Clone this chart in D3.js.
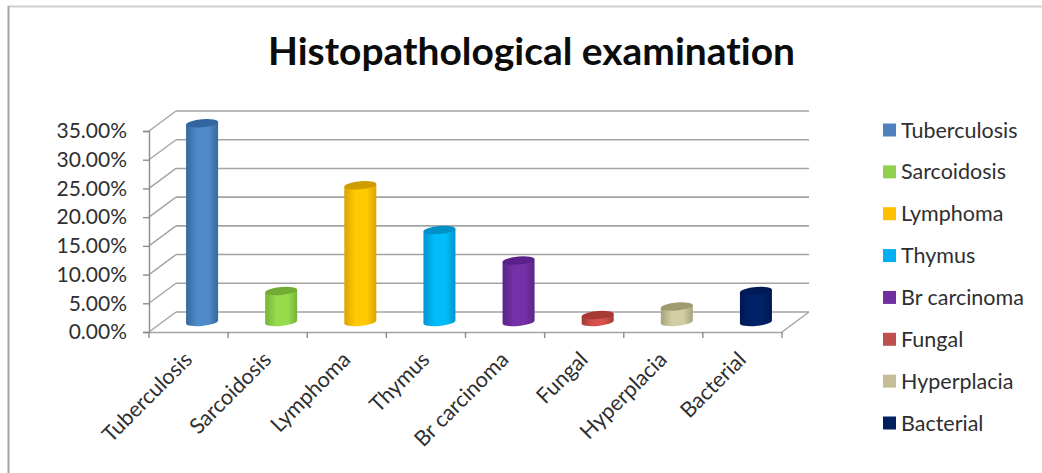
<!DOCTYPE html>
<html>
<head>
<meta charset="utf-8">
<script src="https://cdn.jsdelivr.net/npm/d3@7"></script>
<style>
  html, body { margin: 0; background: #fff; }
  svg { display: block; }
  text { font-family: Lato, "Open Sans", sans-serif; fill: #2f2f2f; font-variant-ligatures: none; }
</style>
</head>
<body>
<svg width="1042" height="473"></svg>
<script>
var categories = ["Tuberculosis", "Sarcoidosis", "Lymphoma", "Thymus", "Br carcinoma", "Fungal", "Hyperplacia", "Bacterial"];
var values = [34.6, 5.4, 23.8, 16, 10.7, 1.2, 2.7, 5.4];
var yTicks = [0, 5, 10, 15, 20, 25, 30, 35];
// side, centre and dark edge of each cylinder
var colors = ["#4f81bd", "#92d050", "#ffc000", "#00b0f0", "#7030a0", "#c0504d", "#c4bd97", "#002060"];
var mid = ["#4f8aca", "#98dc4e", "#ffca00", "#00bcfa", "#7530a8", "#d8524c", "#d4cea4", "#002268"];
var edge = ["#38679f", "#74b43a", "#dca400", "#0096d0", "#5c2488", "#a03a36", "#a8a27c", "#001850"];
var top_ = ["#33659f", "#72ab36", "#cf9c00", "#0090c8", "#5a2288", "#a83a36", "#a09a70", "#001a55"];

var svg = d3.select("svg"),
    depthX = 27, depthY = -20;

var x = d3.scaleBand().domain(categories).range([149, 782]);
var y = d3.scaleLinear().domain([0, 35]).range([332, 131]);

var defs = svg.append("defs");
categories.forEach(function(c, i) {
  var grad = defs.append("linearGradient").attr("id", "cyl" + i);
  grad.append("stop").attr("offset", "0%").attr("stop-color", edge[i]);
  grad.append("stop").attr("offset", "35%").attr("stop-color", mid[i]);
  grad.append("stop").attr("offset", "70%").attr("stop-color", mid[i]);
  grad.append("stop").attr("offset", "100%").attr("stop-color", edge[i]);
});

// page frame
svg.append("line")
    .attr("x1", 8).attr("x2", 1042).attr("y1", 6.5).attr("y2", 6.5)
    .attr("stroke", "#cfcfcf")
    .attr("stroke-width", 2);
svg.append("line")
    .attr("x1", 8.5).attr("x2", 8.5).attr("y1", 6).attr("y2", 473)
    .attr("stroke", "#a6a6a6")
    .attr("stroke-width", 2);

svg.append("text")
    .attr("x", 268)
    .attr("y", 65)
    .attr("font-size", 38)
    .attr("font-weight", 700)
    .attr("textLength", 527)
    .attr("lengthAdjust", "spacingAndGlyphs")
    .style("fill", "#0c0c0c")
    .text("Histopathological examination");

// back wall, side wall and floor
var grid = svg.append("g").attr("stroke", "#a3a3a3").attr("fill", "none");
grid.selectAll(".back")
  .data(yTicks)
  .enter().append("line")
    .attr("class", "back")
    .attr("x1", x.range()[0] + depthX)
    .attr("x2", x.range()[1] + depthX)
    .attr("y1", function(d) { return y(d) + depthY; })
    .attr("y2", function(d) { return y(d) + depthY; })
    .attr("stroke-width", 1.6);
grid.selectAll(".side")
  .data(yTicks)
  .enter().append("line")
    .attr("class", "side")
    .attr("x1", x.range()[0])
    .attr("x2", x.range()[0] + depthX)
    .attr("y1", function(d) { return y(d); })
    .attr("y2", function(d) { return y(d) + depthY; })
    .attr("stroke-width", 1.4);
grid.append("line")
    .attr("x1", x.range()[1])
    .attr("x2", x.range()[1] + depthX)
    .attr("y1", y(0))
    .attr("y2", y(0) + depthY)
    .attr("stroke-width", 1.4);

// axes
var yAxis = svg.append("g")
    .attr("transform", "translate(" + x.range()[0] + ",0)")
    .call(d3.axisLeft(y).tickValues(yTicks).tickSize(6).tickPadding(16)
      .tickFormat(function(d) { return d.toFixed(2) + "%"; }));
yAxis.selectAll("text").attr("font-size", 21).style("font-family", null);
yAxis.selectAll("line,path").attr("stroke", "#8c8c8c").attr("stroke-width", 1.4);

var xAxis = svg.append("g")
    .attr("transform", "translate(0," + y(0) + ")")
    .call(d3.axisBottom(x).tickSize(0).tickFormat(""));
xAxis.select("path").attr("stroke", "#a3a3a3").attr("stroke-width", 1.6);
xAxis.selectAll(".tick").remove();

var xEdges = categories.map(function(c) { return x(c); }).concat(x.range()[1]);
xAxis.selectAll(".edge")
  .data(xEdges)
  .enter().append("line")
    .attr("class", "edge")
    .attr("x1", function(d) { return d; })
    .attr("x2", function(d) { return d; })
    .attr("y1", 0)
    .attr("y2", 6)
    .attr("stroke", "#8c8c8c")
    .attr("stroke-width", 1.4);

xAxis.selectAll(".lab")
  .data(categories)
  .enter().append("text")
    .attr("class", "lab")
    .attr("text-anchor", "end")
    .attr("font-size", 21.5)
    .attr("transform", function(d) {
      return "translate(" + (x(d) + x.bandwidth() / 2 + 5) + ",29) rotate(-45)";
    })
    .text(function(d) { return d; });

// cylinders, sat halfway back on the floor
var bw = 16, ry = 4, midX = depthX / 2, midY = depthY / 2;
var bars = svg.selectAll(".bar")
  .data(categories)
  .enter().append("g")
    .attr("class", "bar")
    .attr("transform", function(d) {
      return "translate(" + (x(d) + x.bandwidth() / 2 + midX) + "," + midY + ") skewY(-5)";
    });
bars.append("path")
    .attr("d", function(d, i) {
      var t = y(values[i]), b = y(0);
      return "M" + (-bw) + "," + t + "V" + b +
        "A" + bw + "," + ry + " 0 0 0 " + bw + "," + b +
        "V" + t + "Z";
    })
    .attr("fill", function(d, i) { return "url(#cyl" + i + ")"; });
bars.append("ellipse")
    .attr("rx", bw)
    .attr("ry", ry)
    .attr("cy", function(d, i) { return y(values[i]); })
    .attr("fill", function(d, i) { return top_[i]; });

// legend
var legendY = d3.scalePoint().domain(categories).range([130, 423]);
var legend = svg.selectAll(".legend")
  .data(categories)
  .enter().append("g")
    .attr("class", "legend")
    .attr("transform", function(d) { return "translate(883," + legendY(d) + ")"; });
legend.append("rect")
    .attr("y", -6.5)
    .attr("width", 13)
    .attr("height", 13)
    .attr("fill", function(d, i) { return colors[i]; });
legend.append("text")
    .attr("x", 18)
    .attr("dy", "0.35em")
    .attr("font-size", 21.5)
    .text(function(d) { return d; });
</script>
</body>
</html>
